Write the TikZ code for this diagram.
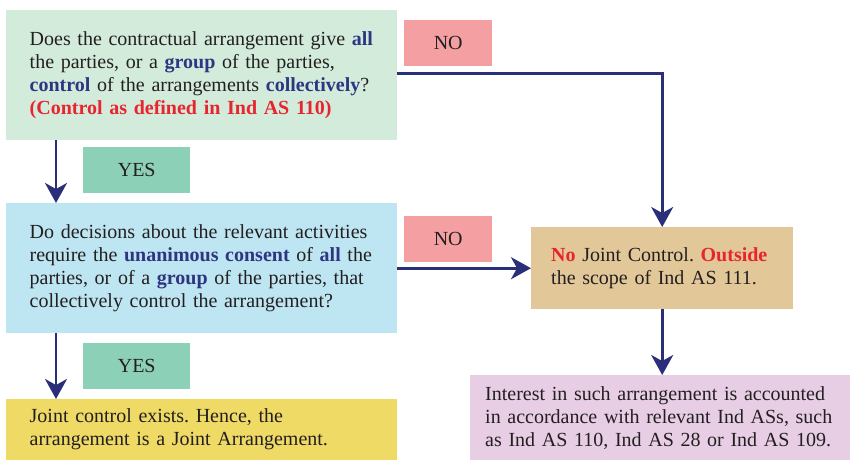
\documentclass[tikz,border=0pt]{standalone}
\usepackage{fontspec}
\setmainfont{Liberation Serif}
\usepackage{xcolor}
\usetikzlibrary{arrows.meta, positioning}
\definecolor{arrnavy}{RGB}{43, 47, 122}
\definecolor{keyblue}{RGB}{46, 53, 129}
\definecolor{keyred}{RGB}{232, 37, 46}
\definecolor{inktext}{RGB}{35, 31, 32}
\definecolor{qgreen}{RGB}{211, 235, 219}
\definecolor{qblue}{RGB}{190, 229, 242}
\definecolor{resyellow}{RGB}{238, 218, 101}
\definecolor{resorange}{RGB}{226, 199, 153}
\definecolor{respink}{RGB}{231, 206, 229}
\definecolor{yesgreen}{RGB}{141, 208, 184}
\definecolor{nored}{RGB}{244, 160, 163}
\newcommand{\kb}[1]{\textbf{\color{keyblue}#1}}
\newcommand{\kr}[1]{\textbf{\color{keyred}#1}}
\frenchspacing

\begin{document}
\begin{tikzpicture}[
          x=1pt, y=-1pt,
          every node/.style={font=\fontsize{20}{23}\selectfont, text=inktext},
          qbox/.style={anchor=north west, inner xsep=23.5pt, inner ysep=0pt, align=left, text width=344pt},
          tag/.style={anchor=north west, minimum height=46pt, inner sep=0pt, align=center},
          arr/.style={-{Stealth[length=20pt, width=22pt, inset=6pt]}, line width=2.6pt, color=arrnavy},
        ]
        \useasboundingbox (0,0) rectangle (850,460);
        % questions
        \node[qbox, fill=qgreen, minimum height=130pt] (q1) at (6,10)
          {Does the contractual arrangement give \kb{all}\\
           the parties, or a \kb{group} of the parties,\\
           \kb{control} of the arrangements \kb{collectively}?\\
           \kr{(Control as defined in Ind AS 110)}};
        \node[qbox, fill=qblue, minimum height=130pt] (q2) at (6,203)
          {Do decisions about the relevant activities\\
           require the \kb{unanimous consent} of \kb{all} the\\
           parties, or of a \kb{group} of the parties, that\\
           collectively control the arrangement?};
        % outcomes
        \node[qbox, fill=resyellow, minimum height=61pt] (ja) at (6,399)
          {Joint control exists. Hence, the\\
           arrangement is a Joint Arrangement.};
        \node[qbox, fill=resorange, minimum height=82pt, inner xsep=20pt, text width=222pt] (njc) at (531,227)
          {\kr{No} Joint Control. \kr{Outside}\\
           the scope of Ind AS 111.};
        \node[qbox, fill=respink, minimum height=85pt, inner xsep=15pt, text width=350pt] (acc) at (470,375)
          {Interest in such arrangement is accounted\\
           in accordance with relevant Ind ASs, such\\
           as Ind AS 110, Ind AS 28 or Ind AS 109.};
        % yes / no tags
        \node[tag, fill=yesgreen, minimum width=107pt] (yes1) at (83,147) {YES};
        \node[tag, fill=yesgreen, minimum width=107pt] (yes2) at (83,343) {YES};
        \node[tag, fill=nored, minimum width=88pt] (no1) at (404,20) {NO};
        \node[tag, fill=nored, minimum width=88pt] (no2) at (404,216) {NO};
        % connectors
        \draw[arr] ([xshift=50pt]q1.south west) -- ([xshift=50pt]q2.north west);
        \draw[arr] ([xshift=50pt]q2.south west) -- ([xshift=50pt]ja.north west);
        \draw[arr] ([yshift=2pt]q1.east) -| (njc.north);
        \draw[arr] (q2.east) -- (njc.west);
        \draw[arr] (njc.south) -- (njc.south |- acc.north);
      \end{tikzpicture}
\end{document}
